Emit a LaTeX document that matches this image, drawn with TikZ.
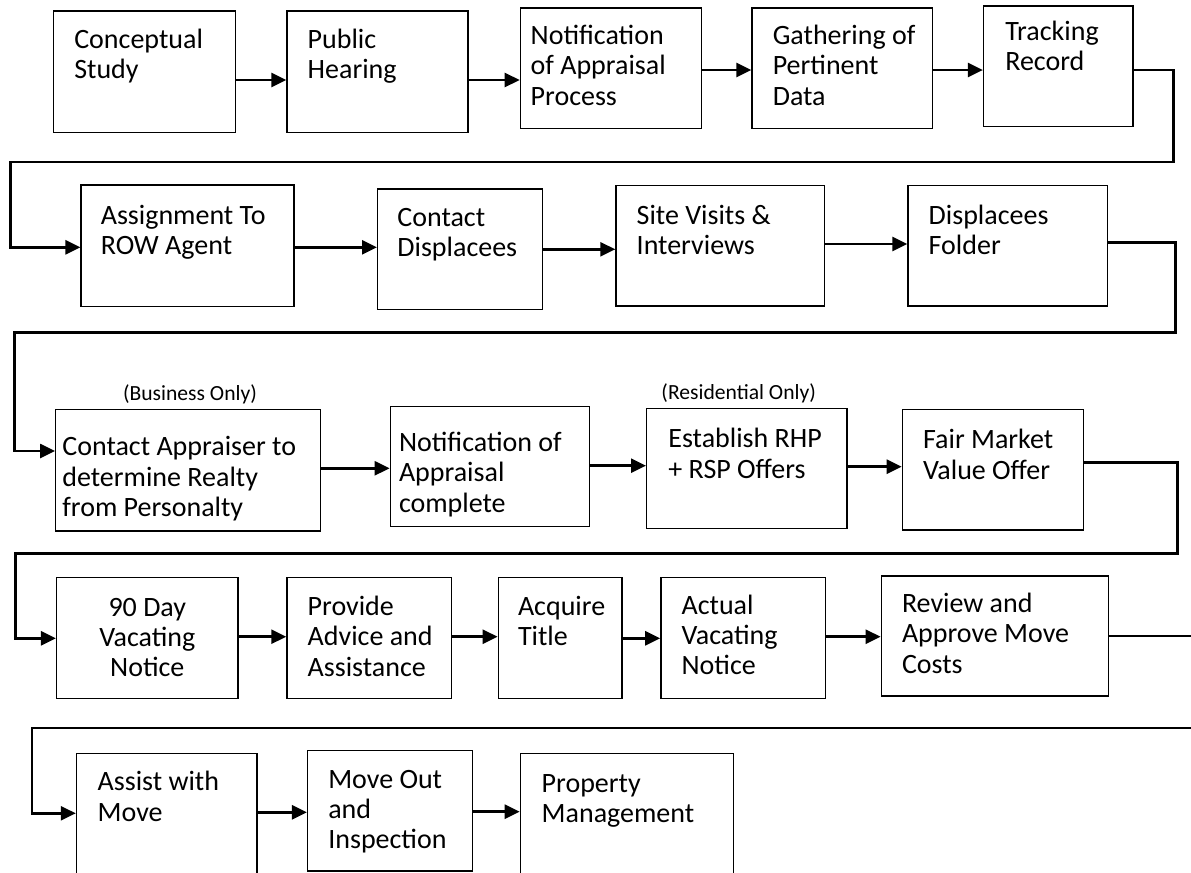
\documentclass[tikz,border=0pt]{standalone}
\usepackage{fontspec}
\setmainfont{Carlito}
\usetikzlibrary{fit,arrows.meta}
\tikzset{
  boxst/.style={draw=black, line width=0.7pt, inner sep=0pt},
  txtst/.style={anchor=base west, inner sep=0pt, font=\fontsize{14pt}{15.2pt}\selectfont},
  ctxtst/.style={anchor=base, inner sep=0pt, font=\fontsize{14pt}{15.2pt}\selectfont},
  smallst/.style={anchor=base, inner sep=0pt, font=\fontsize{10.8pt}{12pt}\selectfont},
  conn/.style={line width=1.3pt, draw=black},
  arr/.style={conn, -{Triangle[length=7.5pt, width=7pt]}}
}
\newcommand{\flowbox}[8]{%
  \node[boxst, fit={(#2,#3) (#4,#5)}] (#1) {};
  \node[txtst] (#1t) at ([xshift=#6*0.5pt, yshift=-#7*0.5pt]#1.north west) {\parbox[t]{300pt}{\raggedright #8}};
}
\begin{document}
\begin{tikzpicture}[x=0.5pt, y=-0.5pt]
\useasboundingbox (0,0) rectangle (1191,873);
% Row 1
\flowbox{b1}{53.6}{11}{235.3}{132.3}{21}{38}{Conceptual\\Study}
\flowbox{b2}{287}{11}{468}{132.3}{21}{38}{Public\\Hearing}
\flowbox{b3}{520.4}{8}{701.2}{128.3}{10.6}{37}{Notification\\of Appraisal\\Process}
\flowbox{b4}{752.1}{8}{932.3}{128.3}{21}{37}{Gathering of\\Pertinent\\Data}
\flowbox{b5}{983.6}{6}{1133.1}{126.7}{22}{35}{Tracking\\Record}
% Row 2
\flowbox{b6}{81.1}{185}{293.9}{306.7}{20}{40}{Assignment To\\ROW Agent}
\flowbox{b7}{377.7}{189}{542.2}{309.3}{20}{38}{Contact\\Displacees}
\flowbox{b8}{616}{185.7}{824.6}{306}{21}{39.5}{Site Visits \&\\Interviews}
\flowbox{b9}{908}{185.7}{1107.4}{306}{21}{39.5}{Displacees\\Folder}
% Row 3
\flowbox{b10}{55.7}{409.3}{320.7}{531}{7}{47}{Contact Appraiser to\\determine Realty\\from Personalty}
\flowbox{b11}{390.3}{406.7}{589.3}{526.7}{9}{45.5}{Notification of\\Appraisal\\complete}
\flowbox{b12}{646.7}{408.3}{846.8}{528.3}{22}{40}{Establish RHP\\+ RSP Offers}
\flowbox{b13}{902.4}{409.3}{1083.7}{530}{21}{40}{Fair Market\\Value Offer}
\node[smallst] (lb1) at (190,400) {(Business Only)};
\node[smallst] (lb2) at (738.7,399.3) {(Residential Only)};
% Row 4
\node[boxst, fit={(56.6,577.7) (238,698.3)}] (b14) {};
\node[ctxtst] (b14t) at ([yshift=-39*0.5pt]b14.north) {\parbox[t]{150pt}{\centering 90 Day\\Vacating\\Notice}};
\flowbox{b15}{287}{577.7}{451.6}{698.3}{21}{38.5}{Provide\\Advice and\\Assistance}
\flowbox{b16}{498.3}{577.7}{621.8}{698.3}{20}{38.5}{Acquire\\Title}
\flowbox{b17}{660.9}{577.7}{825.7}{698.3}{21}{37}{Actual\\Vacating\\Notice}
\flowbox{b18}{881.3}{576}{1108.6}{696}{21}{37}{Review and\\Approve Move\\Costs}
% Row 5
\flowbox{b19}{76.5}{753.3}{256.9}{885}{21.5}{38}{Assist with\\Move}
\flowbox{b20}{307.6}{750.7}{472.6}{871}{21}{38}{Move Out\\and\\Inspection}
\flowbox{b21}{520.4}{753.3}{733.3}{885}{21.6}{39.5}{Property\\Management}
% Connectors row 1
\draw[arr] (b1.east |- 0,80) -- (b2.west |- 0,80);
\draw[arr] (b2.east |- 0,80) -- (b3.west |- 0,80);
\draw[arr] (b3.east |- 0,70) -- (b4.west |- 0,70);
\draw[arr] (b4.east |- 0,70) -- (b5.west |- 0,70);
\draw[arr] (b5.east |- 0,70) -| (1173.4,162) -| (10.3,247.3) -- (b6.west |- 0,247.3);
% row 2
\draw[arr] (b6.east |- 0,247.3) -- (b7.west |- 0,247.3);
\draw[arr] (b7.east |- 0,249.3) -- (b8.west |- 0,249.3);
\draw[arr] (b8.east |- 0,244) -- (b9.west |- 0,244);
\draw[arr] (b9.east |- 0,242.7) -| (1175.7,332.3) -| (14.2,451) -- (b10.west |- 0,451);
% row 3
\draw[arr] (b10.east |- 0,468.3) -- (b11.west |- 0,468.3);
\draw[arr] (b11.east |- 0,465.7) -- (b12.west |- 0,465.7);
\draw[arr] (b12.east |- 0,466.7) -- (b13.west |- 0,466.7);
\draw[arr] (b13.east |- 0,462.7) -| (1177.6,553.3) -| (15.3,638.3) -- (b14.west |- 0,638.3);
% row 4
\draw[arr] (b14.east |- 0,636.7) -- (b15.west |- 0,636.7);
\draw[arr] (b15.east |- 0,636.7) -- (b16.west |- 0,636.7);
\draw[arr] (b16.east |- 0,638.3) -- (b17.west |- 0,638.3);
\draw[arr] (b17.east |- 0,636.7) -- (b18.west |- 0,636.7);
\coordinate (e4) at (1196,636);
\draw[conn] (b18.east |- 0,636) -- (e4);
% row 5
\coordinate (s5) at (1196,728);
\draw[arr] (s5) -| (32,813.3) -- (b19.west |- 0,813.3);
\draw[arr] (b19.east |- 0,812.3) -- (b20.west |- 0,812.3);
\draw[arr] (b20.east |- 0,811.7) -- (b21.west |- 0,811.7);
\end{tikzpicture}
\end{document}
